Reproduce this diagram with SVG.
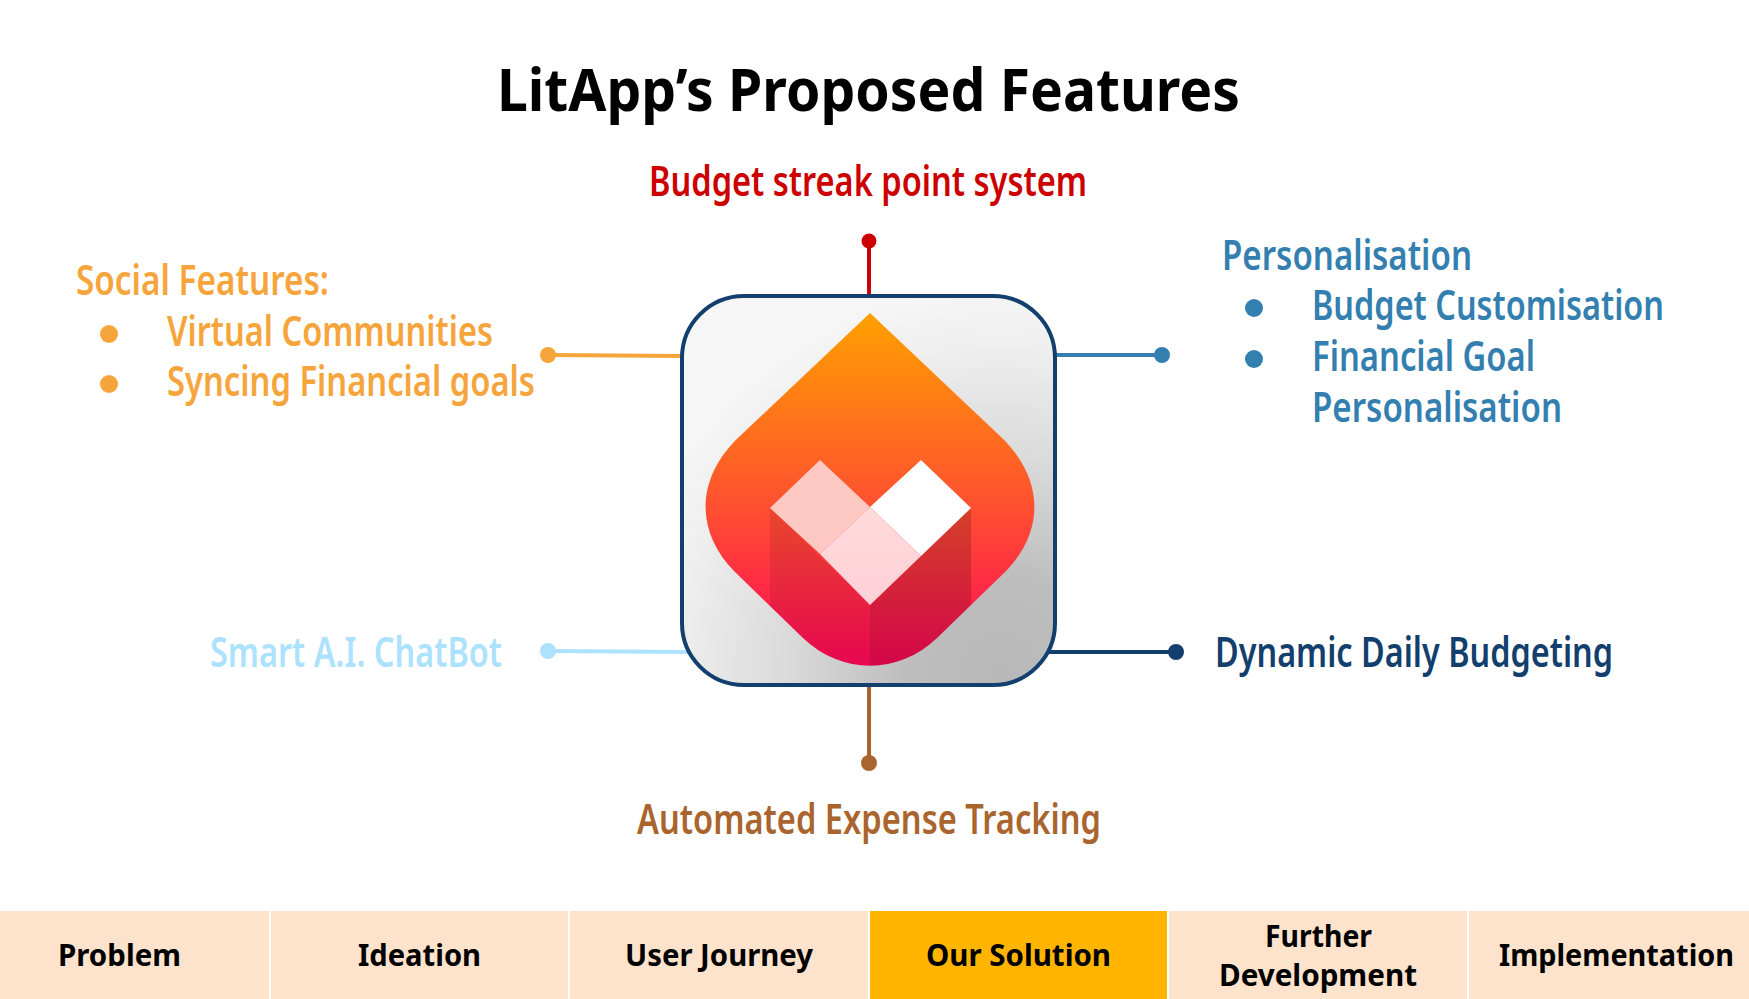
<svg xmlns="http://www.w3.org/2000/svg" width="1749" height="999" viewBox="0 0 1749 999">
<style>
text{font-family:"Noto Sans","Open Sans","Liberation Sans",sans-serif}
.t{font-size:41px;font-weight:600}
.n{font-size:31px;font-weight:700;fill:#000}
.c{fill:none;stroke-width:4}
.tab{fill:#FDE3CC}
.orange{fill:#F6A53C}.blue{fill:#3380B0}.sky{fill:#ADE2FE}.navy{fill:#123F6D}.brown{fill:#A9652D}.red{fill:#CC0000}
</style>
<defs>
<radialGradient id="bg" gradientUnits="userSpaceOnUse" cx="1000" cy="670" r="385">
<stop offset="0" stop-color="#B8B8B8"/><stop offset="0.25" stop-color="#BEBEBE"/><stop offset="0.55" stop-color="#DADADA"/><stop offset="0.85" stop-color="#EFEFEF"/><stop offset="1" stop-color="#F6F6F6"/>
</radialGradient>
<linearGradient id="drop" gradientUnits="userSpaceOnUse" x1="0" y1="313" x2="0" y2="665">
<stop offset="0" stop-color="#FFA000"/><stop offset="0.55" stop-color="#FF5030"/><stop offset="0.78" stop-color="#FF2A45"/><stop offset="1" stop-color="#FF0858"/>
</linearGradient>
<linearGradient id="mid" gradientUnits="userSpaceOnUse" x1="0" y1="507" x2="0" y2="605">
<stop offset="0" stop-color="#FFDADB"/><stop offset="1" stop-color="#FFD0D8"/>
</linearGradient>
<clipPath id="dc"><path d="M870 313L1000 436C1045 478 1045 532 1005 572L937 638C898 675 842 675 803 638L735 572C695 532 695 478 740 436Z"/></clipPath>
</defs>
<rect width="1749" height="999" fill="#fff"/>
<text id="title" x="497" y="111" font-size="60" font-weight="700" textLength="743" lengthAdjust="spacingAndGlyphs" fill="#000">LitApp’s Proposed Features</text>

<g id="connectors">
<path class="c" stroke="#CC0000" d="M869 241V296"/><circle class="red" cx="869" cy="241" r="7.5"/>
<path class="c" stroke="#F6A53C" d="M548 355L683 356"/><circle class="orange" cx="548" cy="355" r="8"/>
<path class="c" stroke="#3380B0" d="M1055 355H1162"/><circle class="blue" cx="1162" cy="355" r="8"/>
<path class="c" stroke="#ADE2FE" d="M548 651L688 652"/><circle class="sky" cx="548" cy="651" r="8"/>
<path class="c" stroke="#123F6D" d="M1048 652H1176"/><circle class="navy" cx="1176" cy="652" r="8"/>
<path class="c" stroke="#A9652D" d="M869 685V763"/><circle class="brown" cx="869" cy="763" r="8"/>
</g>

<g id="logo">
<rect x="682" y="296" width="373" height="389" rx="62" ry="62" fill="url(#bg)" stroke="#123F6D" stroke-width="4"/>
<path d="M870 313L1000 436C1045 478 1045 532 1005 572L937 638C898 675 842 675 803 638L735 572C695 532 695 478 740 436Z" fill="url(#drop)"/>
<g clip-path="url(#dc)">
<path d="M770 508L870 605V680H770Z" fill="#000" opacity="0.09"/>
<path d="M971 508L870 605V680H971Z" fill="#000" opacity="0.17"/>
</g>
<path d="M770 508L820 460L870 507L820 554Z" fill="#FFC9C3"/>
<path d="M870 507L921 460L971 508L921 556Z" fill="#fff"/>
<path d="M870 507L921 556L870 605L820 554Z" fill="url(#mid)"/>
</g>

<g id="feature-budget-streak"><text class="t red" x="649" y="196" textLength="438" lengthAdjust="spacingAndGlyphs">Budget streak point system</text></g>

<g id="feature-social">
<text class="t orange" x="76" y="295" textLength="253" lengthAdjust="spacingAndGlyphs">Social Features:</text>
<circle class="orange" cx="109" cy="334" r="9"/>
<text class="t orange" x="167" y="346" textLength="326" lengthAdjust="spacingAndGlyphs">Virtual Communities</text>
<circle class="orange" cx="109" cy="384" r="9"/>
<text class="t orange" x="167" y="396" textLength="368" lengthAdjust="spacingAndGlyphs">Syncing Financial goals</text>
</g>

<g id="feature-personalisation">
<text class="t blue" x="1222" y="270" textLength="250" lengthAdjust="spacingAndGlyphs">Personalisation</text>
<circle class="blue" cx="1254" cy="308" r="9"/>
<text class="t blue" x="1312" y="320" textLength="352" lengthAdjust="spacingAndGlyphs">Budget Customisation</text>
<circle class="blue" cx="1254" cy="359" r="9"/>
<text class="t blue" x="1312" y="371" textLength="223" lengthAdjust="spacingAndGlyphs">Financial Goal</text>
<text class="t blue" x="1312" y="422" textLength="250" lengthAdjust="spacingAndGlyphs">Personalisation</text>
</g>

<g id="feature-chatbot"><text class="t sky" x="210" y="667" textLength="292" lengthAdjust="spacingAndGlyphs">Smart A.I. ChatBot</text></g>
<g id="feature-daily"><text class="t navy" x="1215" y="667" textLength="398" lengthAdjust="spacingAndGlyphs">Dynamic Daily Budgeting</text></g>
<g id="feature-expense"><text class="t brown" x="637" y="834" textLength="464" lengthAdjust="spacingAndGlyphs">Automated Expense Tracking</text></g>

<g id="tab-problem"><rect class="tab" x="0" y="911" width="269" height="88"/><text class="n" x="58" y="966" textLength="123" lengthAdjust="spacingAndGlyphs">Problem</text></g>
<g id="tab-ideation"><rect class="tab" x="271" y="911" width="297" height="88"/><text class="n" x="358" y="966" textLength="123" lengthAdjust="spacingAndGlyphs">Ideation</text></g>
<g id="tab-user-journey"><rect class="tab" x="570" y="911" width="298" height="88"/><text class="n" x="625" y="966" textLength="188" lengthAdjust="spacingAndGlyphs">User Journey</text></g>
<g id="tab-our-solution"><rect x="870" y="911" width="297" height="88" fill="#FFB400"/><text class="n" x="926" y="966" textLength="185" lengthAdjust="spacingAndGlyphs">Our Solution</text></g>
<g id="tab-further"><rect class="tab" x="1169" y="911" width="298" height="88"/><text class="n" x="1265" y="947" textLength="107" lengthAdjust="spacingAndGlyphs">Further</text><text class="n" x="1219" y="986" textLength="198" lengthAdjust="spacingAndGlyphs">Development</text></g>
<g id="tab-implementation"><rect class="tab" x="1469" y="911" width="280" height="88"/><text class="n" x="1499" y="966" textLength="235" lengthAdjust="spacingAndGlyphs">Implementation</text></g>
</svg>
